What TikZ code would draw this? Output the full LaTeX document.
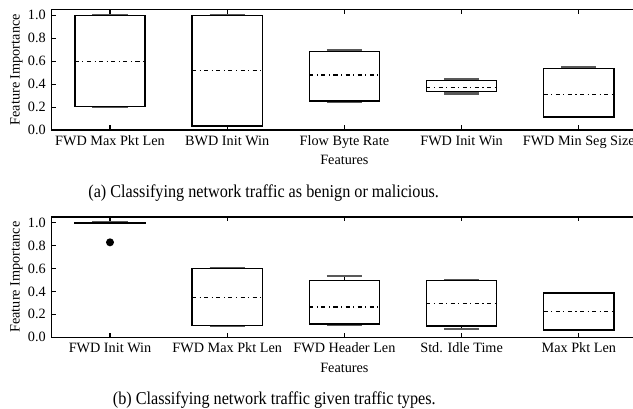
\documentclass[tikz,border=0pt]{standalone}
\usepackage{fontspec}
\setmainfont{Liberation Serif}
\tikzset{
  frameln/.style={line width=0.8pt, black},
  boxln/.style={line width=0.8pt, black},
  capln/.style={line width=1.3pt, black!65},
  medln/.style={line width=0.7pt, dash pattern=on 2.3pt off 2pt on 0.6pt off 2pt},
  tickln/.style={line width=0.6pt, black},
  lbl/.style={font=\fontsize{8.1}{9}\selectfont, inner sep=0pt},
  captxt/.style={font=\fontsize{10.3}{12}\selectfont, inner sep=0pt, transform shape, xscale=0.895},
  plotarea/.style={x=2.344cm, y=2.294cm}
}
% box plot: x, lower cap, q1, median, q3, upper cap
\newcommand\fibox[6]{%
  \draw[boxln] (#1,#3) -- (#1,#2);
  \draw[boxln] (#1,#5) -- (#1,#6);
  \draw[capln] (#1-0.15,#2) -- (#1+0.15,#2);
  \draw[capln] (#1-0.15,#6) -- (#1+0.15,#6);
  \draw[boxln] (#1-0.3,#3) rectangle (#1+0.3,#5);
  \draw[medln] (#1-0.3,#4) -- (#1+0.3,#4);
}
% axes frame with inward ticks and y tick labels
\newcommand\fiaxes[1]{%
  \draw[frameln] (0.5,0) rectangle (5.5,1.05);
  \foreach \i in {1,...,5} {
    \draw[tickln] (\i,0) -- ++(0,0.09cm);
    \draw[tickln] (\i,1.05) -- ++(0,-0.09cm);
  }
  \foreach \v/\t [count=\k] in {0/0.0,0.2/0.2,0.4/0.4,0.6/0.6,0.8/0.8,1/1.0} {
    \draw[tickln] (0.5,\v) -- ++(0.09cm,0);
    \draw[tickln] (5.5,\v) -- ++(-0.09cm,0);
    \node[lbl, anchor=east] (#1y\k) at ([xshift=-0.106cm]0.5,\v) {\t};
  }
  \node[lbl, rotate=90] (#1ylab) at ([xshift=-0.7cm]0.5,0.525) {Feature Importance};
  \node[lbl, anchor=base] (#1xlab) at ([yshift=-0.7cm]3,0) {Features};
}
\begin{document}
\begin{tikzpicture}
\useasboundingbox (0,0) rectangle (12.66cm,-8.18cm);
\clip (0,0) rectangle (12.66cm,-8.18cm);

% (a) benign vs malicious
\begin{scope}[shift={(-0.144cm,-2.6cm)}, plotarea]
  \fiaxes{a}
  \fibox{1}{0.203}{0.203}{0.60}{1.0}{1.0}
  \fibox{2}{0.035}{0.035}{0.517}{1.0}{1.0}
  \fibox{3}{0.244}{0.253}{0.48}{0.683}{0.70}
  \fibox{4}{0.317}{0.337}{0.37}{0.43}{0.44}
  \fibox{5}{0.113}{0.113}{0.311}{0.538}{0.552}
  \foreach \i/\t in {1/FWD Max Pkt Len,2/BWD Init Win,3/Flow Byte Rate,4/FWD Init Win,5/FWD Min Seg Size}
    \node[lbl, anchor=base] (ax\i) at ([yshift=-0.31cm]\i,0) {\t};
\end{scope}
\node[captxt, anchor=base] (capa) at (5.274cm,-3.96cm) {(a) Classifying network traffic as benign or malicious.};

% (b) given traffic types
\begin{scope}[shift={(-0.144cm,-6.746cm)}, plotarea]
  \fiaxes{b}
  \fibox{1}{0.995}{0.995}{1.0}{1.0}{1.0}
  \fill (1,0.828) circle (0.08cm);
  \fibox{2}{0.101}{0.101}{0.345}{0.598}{0.607}
  \fibox{3}{0.107}{0.116}{0.264}{0.497}{0.532}
  \fibox{4}{0.075}{0.098}{0.296}{0.497}{0.497}
  \fibox{5}{0.064}{0.064}{0.227}{0.386}{0.386}
  \foreach \i/\t in {1/FWD Init Win,2/FWD Max Pkt Len,3/FWD Header Len,4/Std. Idle Time,5/Max Pkt Len}
    \node[lbl, anchor=base] (bx\i) at ([yshift=-0.31cm]\i,0) {\t};
\end{scope}
\node[captxt, anchor=base] (capb) at (5.486cm,-8.1cm) {(b) Classifying network traffic given traffic types.};
\end{tikzpicture}
\end{document}
